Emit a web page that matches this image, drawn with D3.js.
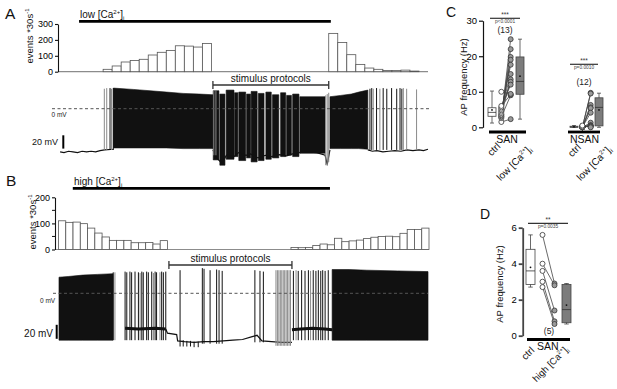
<!DOCTYPE html>
<html>
<head>
<meta charset="utf-8">
<script src="https://cdn.jsdelivr.net/npm/d3@7"></script>
<style>
body {margin: 0; background: #fff;}
svg {display: block; font-family: "Liberation Sans", Arial, sans-serif;}
</style>
</head>
<body>
<svg id="fig" width="617" height="389"></svg>
<script>
// ---- histograms: events per 30 s bin
var countsA = [0,0,0,0,0, 15,36,61,71,78,105,122,134,163,161,155,178,
	0,0,0,0,0,0,0,0,0,0,0,0,0, 241,184,107,46,23,15,8,8,10,4, 0];
var countsB = [110,104,105,99,82,63,48,35,35,35,26,26,27,21,34,
	0,0,0,0,0,0,0,0,0,0,0,0,0,0,0,0,0,
	8,7,8,15,21,18,43,30,33,36,42,47,50,51,49,62,77,77,82];
var ticksA = [0, 100, 200, 300];
var ticksB = [0, 100, 200];
var minorB = [50, 150];

// time windows (s)
var caBarA = [70, 907], stimA = [515, 900];
var caBarB = [59, 1121], stimB = [456, 964];

// ---- trace A (t in s, mV)
var denseA = [
	[[184,31,-59],[250,29,-59],[306,27,-59],[360,25,-59],[416,23,-60],[470,22,-60],[515,21,-60]],
	[[904,18,-60],[940,20,-60],[975,22,-60],[1000,25,-60],[1030,28,-61]]
];
var burstsA = [
	[516,535,27,-77],[538,555,22,-85],[559,585,28,-76],[587,598,24,-72],[601,624,25,-78],
	[627,640,22,-74],[642,662,26,-80],[666,685,23,-78],[691,709,25,-76],[713,734,21,-74],
	[740,757,24,-72],[760,776,20,-70],[780,801,22,-72],[804,888,18,-67]
];
var restA = [
	[[7,-65],[20,-66],[35,-64],[50,-65],[65,-66],[80,-64],[95,-65],[110,-64],[125,-65],[140,-63],[155,-62],[184,-61]],
	[[515,-62],[530,-75],[545,-82],[560,-70],[585,-72],[600,-66],[625,-70],[640,-68],[665,-74],[690,-70],
	 [710,-72],[735,-69],[760,-71],[780,-68],[800,-66],[830,-65],[860,-66],[888,-70],[895,-84],[904,-62]],
	[[1030,-62],[1045,-64],[1060,-63],[1080,-65],[1100,-64],[1120,-63],[1140,-64],[1160,-62],[1180,-63],[1200,-62],[1215,-63],[1230,-61]]
];
var spikesA = [
	[154,30,-62,1],[162,31,-62,1],[173,31,-62,0],[178,30,-62,1],[184,31,-62,0],
	[518,28,-70,1],[525,28,-70,1],[890,20,-85,1],[895,22,-86,1],[900,24,-80,1],
	[1037,30,-62,0],[1043,31,-62,0],[1048,30,-62,1],[1059,31,-62,0],[1070,30,-62,1],[1081,31,-62,0],
	[1093,30,-62,0],[1109,31,-62,0],[1126,30,-62,0],[1137,31,-62,0],[1143,30,-62,0],[1148,31,-62,1],
	[1159,30,-62,1],[1192,29,-62,1]
];

// ---- trace B
var denseB = [
	[[2,23,-67],[40,24,-67],[100,26,-67],[160,27,-67],[225,28,-67]],
	[[1130,34,-67],[1200,34,-67],[1273,33,-67],[1400,32,-67],[1526,31,-67]]
];
var plateauB = [
	[[275,-50],[330,-51],[400,-50],[443,-51]],
	[[964,-52],[1000,-51],[1050,-50],[1100,-51],[1130,-52]]
];
var restB = [
	[[443,-51],[450,-57],[488,-59],[492,-68],[520,-69],[560,-70],[600,-69],[640,-69],[680,-68],[720,-67],
	 [760,-66],[800,-62],[820,-60],[840,-68],[880,-69],[920,-70],[964,-70]]
];
var spikesB = [
	[226,30,-67,0],[233,30,-67,1],[275,31,-67,0],[282,30,-67,0],[295,31,-67,0],[302,30,-67,0],[316,31,-67,0],
	[330,30,-67,0],[337,29,-67,1],[344,31,-67,0],[350,30,-67,0],[364,31,-67,0],[371,30,-67,0],[385,31,-67,0],
	[392,29,-67,1],[399,31,-67,0],[405,30,-67,0],[419,30,-67,1],[426,31,-67,0],[433,30,-67,0],[443,31,-67,0],
	[515,-67,-76,0],[530,-68,-76,0],[545,-68,-76,0],[560,-69,-77,0],[577,-69,-77,0],
	[502,33,-76,0],[594,36,-72,0],[601,35,-72,0],[626,33,-72,0],[653,34,-72,0],[663,33,-72,0],[676,32,-72,0],
	[811,33,-70,0],[832,32,-70,0],[846,31,-70,0],
	[898,33,-75,1],[904,33,-75,1],[910,33,-75,1],[916,33,-75,1],[922,33,-75,1],[928,33,-75,1],
	[934,33,-75,1],[940,33,-75,1],[946,33,-75,1],[952,33,-75,1],[958,33,-75,1],
	[970,32,-67,0],[981,33,-67,1],[990,32,-67,0],[1004,33,-67,0],[1018,32,-67,0],[1032,33,-67,0],
	[1041,32,-67,1],[1052,33,-67,0],[1063,32,-67,0],[1073,33,-67,0],[1083,32,-67,0],[1091,33,-67,0],
	[1101,32,-67,0],[1114,33,-67,0]
];

// ---- panel C: AP frequency (Hz), paired cells
var sanCtrl = [1.5, 2.6, 2.9, 3.1, 3.4, 3.6, 4.0, 4.4, 4.8, 5.2, 5.6, 6.0, 10.0];
var sanLow  = [2.3, 24.8, 9.0, 22.0, 13.5, 19.8, 19.0, 17.6, 15.0, 12.8, 12.0, 9.2, 9.4];
var nsanCtrl = [0, 0, 0, 0, 0, 0, 0, 0, 0.3, 0.3, 0.2, 0.5];
var nsanLow  = [9.7, 9.5, 6.3, 5.6, 5.4, 4.1, 1.3, 0.6, 0.5, 0.3, 0.2, 0];
// [min, q1, median, q3, max, mean]
var boxSanCtrl = [1.2, 3.1, 4.2, 5.5, 10.2, 4.9];
var boxSanLow = [2.3, 9.3, 12.9, 19.8, 24.8, 14.4];
var boxNsanCtrl = [0, 0, 0.1, 0.3, 0.5, 0.15];
var boxNsanLow = [0, 0.4, 5.6, 8.3, 9.6, 4.9];
var ticksC = [0, 10, 20, 30];

// ---- panel D
var dCtrl = [5.6, 4.0, 3.6, 3.0, 2.7];
var dHigh = [2.9, 2.8, 1.4, 0.8, 0.65];
var boxDCtrl = [2.7, 2.85, 3.6, 4.8, 5.6, 3.8];
var boxDHigh = [0.65, 0.72, 1.45, 2.85, 2.9, 1.7];
var ticksD = [0, 2, 4, 6];

var slots = ['ctrlBox', 'ctrlPts', 'testPts', 'testBox'];
var FONT = '"Liberation Sans", Arial, sans-serif';
var svg = d3.select('#fig');

function caText(g, x, y, size, prefix, rotate, anchor) {
	var holder = g.append('g').attr('transform', 'translate(' + x + ',' + y + ')');
	if (rotate) holder = holder.append('g').attr('transform', 'rotate(' + rotate + ')');
	var t = holder.append('text')
		.attr('font-size', size).attr('text-anchor', anchor || 'start').attr('fill', '#111');
	t.append('tspan').text(prefix + '[Ca');
	t.append('tspan').attr('font-size', size * 0.6).attr('dy', -size * 0.4).text('2+');
	t.append('tspan').attr('dy', size * 0.4).text(']');
	t.append('tspan').attr('font-size', size * 0.6).attr('dy', size * 0.2).text('i');
	return t;
}

function eventsLabel(g, x, y) {
	var t = g.append('text').attr('transform', 'translate(' + x + ',' + y + ') rotate(-90)')
		.attr('text-anchor', 'middle').attr('font-size', 9.5).attr('fill', '#111');
	t.append('tspan').text('events *30s');
	t.append('tspan').attr('font-size', 6).attr('dy', -4).text('-1');
}

function drawHist(g, counts, xr, yr, max, ticks, minor, axisX) {
	var x = d3.scaleBand().domain(d3.range(counts.length)).range(xr);
	var y = d3.scaleLinear().domain([0, max]).range(yr);
	g.append('line')
		.attr('x1', axisX).attr('x2', xr[1]).attr('y1', y(0)).attr('y2', y(0))
		.attr('stroke', '#8c8c8c').attr('stroke-width', 1.2);
	var bars = counts.map(function(v, i) {return {i: i, v: v}}).filter(function(d) {return d.v > 0});
	g.selectAll('rect').data(bars).enter().append('rect')
		.attr('x', function(d) {return x(d.i)})
		.attr('width', x.bandwidth())
		.attr('y', function(d) {return y(d.v)})
		.attr('height', function(d) {return y(0) - y(d.v)})
		.attr('fill', '#fff').attr('stroke', '#555').attr('stroke-width', 0.8);
	var ax = g.append('g').attr('transform', 'translate(' + axisX + ',0)')
		.call(d3.axisLeft(y).tickValues(ticks).tickFormat(d3.format('d')).tickSize(3).tickSizeOuter(0).tickPadding(2));
	ax.attr('font-family', FONT).attr('font-size', 9);
	ax.selectAll('path, line').attr('stroke', '#111').attr('stroke-width', 1.1);
	g.selectAll('line.minor').data(minor).enter().append('line').attr('class', 'minor')
		.attr('x1', axisX - 3).attr('x2', axisX).attr('y1', y).attr('y2', y)
		.attr('stroke', '#111').attr('stroke-width', 1);
}

function drawTrace(g, x, y, dense, bursts, rest, spikes, plateau) {
	var area = d3.area()
		.x(function(d) {return x(d[0])})
		.y0(function(d) {return y(d[2])})
		.y1(function(d) {return y(d[1])});
	var line = d3.line()
		.x(function(d) {return x(d[0])})
		.y(function(d) {return y(d[1])});
	var segs = dense.concat(bursts.map(function(b) {return [[b[0], b[2], b[3]], [b[1], b[2], b[3]]]}));
	g.selectAll('path.dense').data(segs).enter().append('path').attr('class', 'dense')
		.attr('d', area).attr('fill', '#111').attr('stroke', '#111').attr('stroke-width', 0.6);
	g.selectAll('path.rest').data(rest).enter().append('path').attr('class', 'rest')
		.attr('d', line).attr('fill', 'none').attr('stroke', '#111').attr('stroke-width', 1.2);
	g.selectAll('line.spk').data(spikes).enter().append('line').attr('class', 'spk')
		.attr('x1', function(d) {return x(d[0])}).attr('x2', function(d) {return x(d[0])})
		.attr('y1', function(d) {return y(d[1])}).attr('y2', function(d) {return y(d[2])})
		.attr('stroke', function(d) {return d[3] ? '#8a8a8a' : '#111'}).attr('stroke-width', 1);
	g.selectAll('path.plat').data(plateau).enter().append('path').attr('class', 'plat')
		.attr('d', line).attr('fill', 'none').attr('stroke', '#111').attr('stroke-width', 3);
}

function bracket(g, x0, x1, y, label) {
	g.append('line').attr('x1', x0).attr('x2', x1).attr('y1', y).attr('y2', y)
		.attr('stroke', '#333').attr('stroke-width', 1.3);
	[x0, x1].forEach(function(xx) {
		g.append('line').attr('x1', xx).attr('x2', xx).attr('y1', y - 4).attr('y2', y + 4)
			.attr('stroke', '#333').attr('stroke-width', 1.3);
	});
	g.append('text').attr('x', (x0 + x1) / 2).attr('y', y - 3).attr('text-anchor', 'middle')
		.attr('font-size', 10).attr('fill', '#111').text(label);
}

function panelTrace(opt) {
	var g = svg.append('g');
	var xH = d3.scaleLinear().domain([0, opt.counts.length * 30]).range(opt.xr);
	drawHist(g.append('g'), opt.counts, opt.xr, opt.yr, opt.max, opt.ticks, opt.minor, opt.axisX);
	g.append('text').attr('x', opt.letter[0]).attr('y', opt.letter[1]).attr('font-size', 15.5)
		.attr('fill', '#111').text(opt.name);
	eventsLabel(g, opt.evLabel[0], opt.evLabel[1]);
	caText(g, opt.caText[0], opt.caText[1], 10, opt.prefix);
	g.append('line').attr('x1', xH(opt.caBar[0])).attr('x2', xH(opt.caBar[1]))
		.attr('y1', opt.caBarY).attr('y2', opt.caBarY).attr('stroke', '#000').attr('stroke-width', 2.8);
	bracket(g, xH(opt.stim[0]), xH(opt.stim[1]), opt.stimY, 'stimulus protocols');

	var yV = d3.scaleLinear().domain([0, 20]).range([opt.zeroY, opt.zeroY - 20 * opt.pxPerMv]);
	drawTrace(g.append('g'), xH, yV, opt.dense, opt.bursts, opt.rest, opt.spikes, opt.plateau);
	g.append('line').attr('x1', opt.dash[0]).attr('x2', opt.dash[1]).attr('y1', yV(0)).attr('y2', yV(0))
		.attr('stroke', '#555').attr('stroke-width', 1).attr('stroke-dasharray', '3,2.5');
	g.append('text').attr('x', opt.zeroText[0]).attr('y', opt.zeroText[1]).attr('font-size', 6.5)
		.attr('fill', '#222').text('0 mV');
	g.append('line').attr('x1', opt.scaleX).attr('x2', opt.scaleX)
		.attr('y1', yV(opt.scaleMv[0])).attr('y2', yV(opt.scaleMv[1]))
		.attr('stroke', '#000').attr('stroke-width', 2);
	g.append('text').attr('x', opt.scaleText[0]).attr('y', opt.scaleText[1]).attr('text-anchor', 'end')
		.attr('font-size', opt.scaleFont).attr('fill', '#111').text('20 mV');
}

panelTrace({
	name: 'A', letter: [5, 19], counts: countsA, xr: [58, 428], yr: [71.7, 24], max: 300,
	ticks: ticksA, minor: [], axisX: 58, evLabel: [33, 36],
	prefix: 'low ', caText: [80, 18], caBar: caBarA, caBarY: 21.3, stim: stimA, stimY: 85,
	zeroY: 108.7, pxPerMv: 0.665, dense: denseA, bursts: burstsA, rest: restA, spikes: spikesA, plateau: [],
	dash: [52, 430], zeroText: [51.5, 117], scaleX: 63.3, scaleMv: [-40, -60], scaleText: [58, 145], scaleFont: 9
});

panelTrace({
	name: 'B', letter: [6, 185.5], counts: countsB, xr: [58.5, 429], yr: [249.5, 197.3], max: 200,
	ticks: ticksB, minor: minorB, axisX: 55, evLabel: [36, 222],
	prefix: 'high ', caText: [74, 184.5], caBar: caBarB, caBarY: 188.3, stim: stimB, stimY: 265,
	zeroY: 293.3, pxPerMv: 0.7, dense: denseB, bursts: [], rest: restB, spikes: spikesB, plateau: plateauB,
	dash: [53, 428], zeroText: [40, 303], scaleX: 56.7, scaleMv: [-45, -65], scaleText: [53, 337], scaleFont: 10
});

// ---- box / paired plots
function drawBox(g, cx, w, s, y, fill) {
	g.append('line').attr('x1', cx).attr('x2', cx).attr('y1', y(s[0])).attr('y2', y(s[4]))
		.attr('stroke', '#444').attr('stroke-width', 0.8);
	[s[0], s[4]].forEach(function(v) {
		g.append('line').attr('x1', cx - w * 0.25).attr('x2', cx + w * 0.25).attr('y1', y(v)).attr('y2', y(v))
			.attr('stroke', '#444').attr('stroke-width', 0.8);
	});
	g.append('rect').attr('x', cx - w / 2).attr('width', w).attr('y', y(s[3]))
		.attr('height', Math.max(0.5, y(s[1]) - y(s[3])))
		.attr('fill', fill).attr('stroke', '#444').attr('stroke-width', 0.8);
	g.append('line').attr('x1', cx - w / 2).attr('x2', cx + w / 2).attr('y1', y(s[2])).attr('y2', y(s[2]))
		.attr('stroke', '#333').attr('stroke-width', 0.8);
	g.append('circle').attr('cx', cx).attr('cy', y(s[5])).attr('r', 0.9).attr('fill', '#111');
}

function drawPairs(g, x0, x1, a, b, y) {
	var pairs = a.map(function(v, i) {return [v, b[i]]});
	g.selectAll('line.pair').data(pairs).enter().append('line').attr('class', 'pair')
		.attr('x1', x0).attr('x2', x1)
		.attr('y1', function(d) {return y(d[0])}).attr('y2', function(d) {return y(d[1])})
		.attr('stroke', '#444').attr('stroke-width', 0.8);
	g.selectAll('circle.c0').data(a).enter().append('circle').attr('class', 'c0')
		.attr('cx', x0).attr('cy', y).attr('r', 2.5)
		.attr('fill', '#fff').attr('stroke', '#333').attr('stroke-width', 0.8);
	g.selectAll('circle.c1').data(b).enter().append('circle').attr('class', 'c1')
		.attr('cx', x1).attr('cy', y).attr('r', 2.5)
		.attr('fill', '#9a9a9a').attr('stroke', '#333').attr('stroke-width', 0.8);
}

function signif(g, x0, x1, y, stars, p, nY, n) {
	g.append('text').attr('x', (x0 + x1) / 2).attr('y', y + 0.5).attr('text-anchor', 'middle')
		.attr('font-size', 6.5).attr('fill', '#333').text(stars);
	g.append('line').attr('x1', x0).attr('x2', x1).attr('y1', y + 1.5).attr('y2', y + 1.5)
		.attr('stroke', '#333').attr('stroke-width', 1.2);
	g.append('text').attr('x', (x0 + x1) / 2).attr('y', y + 6.2).attr('text-anchor', 'middle')
		.attr('font-size', 4.8).attr('fill', '#444').text(p);
	if (n) {
		g.append('text').attr('x', (x0 + x1) / 2).attr('y', nY).attr('text-anchor', 'middle')
			.attr('font-size', 8.5).attr('fill', '#222').text(n);
	}
}

function groupBar(g, x0, x1, y) {
	g.append('line').attr('x1', x0).attr('x2', x1).attr('y1', y).attr('y2', y)
		.attr('stroke', '#000').attr('stroke-width', 2.8);
}

function rotLabel(g, x, y, text) {
	g.append('g').attr('transform', 'translate(' + x + ',' + y + ')')
		.append('text').attr('transform', 'rotate(-45)')
		.attr('text-anchor', 'end').attr('font-size', 10).attr('fill', '#111').text(text);
}

function yLabel(g, x, y) {
	g.append('text').attr('transform', 'translate(' + x + ',' + y + ') rotate(-90)')
		.attr('text-anchor', 'middle').attr('font-size', 9.5).attr('fill', '#111').text('AP frequency (Hz)');
}

// panel C
var gC = svg.append('g');
var yC = d3.scaleLinear().domain([0, 30]).range([127.3, 20.7]);
var axC = gC.append('g').attr('transform', 'translate(483,0)')
	.call(d3.axisLeft(yC).tickValues(ticksC).tickFormat(d3.format('d')).tickSize(4).tickSizeOuter(0).tickPadding(2));
axC.attr('font-family', FONT).attr('font-size', 9.5);
axC.selectAll('path, line').attr('stroke', '#111').attr('stroke-width', 1.2);
gC.append('text').attr('x', 446).attr('y', 17).attr('font-size', 14).attr('fill', '#111').text('C');
yLabel(gC, 466.5, 77);

var xSan = d3.scalePoint().domain(slots).range([492, 520]);
drawBox(gC, xSan('ctrlBox'), 8, boxSanCtrl, yC, '#fff');
drawBox(gC, xSan('testBox'), 8, boxSanLow, yC, '#7c7c7c');
drawPairs(gC.append('g'), xSan('ctrlPts'), xSan('testPts'), sanCtrl, sanLow, yC);
signif(gC, 490, 520, 16.8, '***', 'p<0.0001', 33, '(13)');
groupBar(gC, 489, 526, 132);
gC.append('text').attr('x', 507).attr('y', 142.5).attr('text-anchor', 'middle').attr('font-size', 10.5)
	.attr('fill', '#111').text('SAN');
rotLabel(gC, 501, 147, 'ctrl');
caText(gC, 532, 150, 10, 'low ', -45, 'end');

var xNsan = d3.scalePoint().domain(slots).range([574, 599]);
drawBox(gC, xNsan('ctrlBox'), 8, boxNsanCtrl, yC, '#fff');
drawBox(gC, xNsan('testBox'), 8, boxNsanLow, yC, '#7c7c7c');
drawPairs(gC.append('g'), xNsan('ctrlPts'), xNsan('testPts'), nsanCtrl, nsanLow, yC);
signif(gC, 570, 598, 62.8, '***', 'p=0.0010', 85, '(12)');
groupBar(gC, 568, 600, 132);
gC.append('text').attr('x', 584.5).attr('y', 142.5).attr('text-anchor', 'middle').attr('font-size', 10.5)
	.attr('fill', '#111').text('NSAN');
rotLabel(gC, 581.5, 148, 'ctrl');
caText(gC, 612, 150, 10, 'low ', -45, 'end');

// panel D
var gD = svg.append('g');
var yD = d3.scaleLinear().domain([0, 6]).range([335.7, 227.7]);
var axD = gD.append('g').attr('transform', 'translate(522.7,0)')
	.call(d3.axisLeft(yD).tickValues(ticksD).tickFormat(d3.format('d')).tickSize(4).tickSizeOuter(0).tickPadding(2));
axD.attr('font-family', FONT).attr('font-size', 9.5);
axD.selectAll('path, line').attr('stroke', '#444').attr('stroke-width', 1.8);
gD.append('text').attr('x', 480).attr('y', 218.5).attr('font-size', 14).attr('fill', '#111').text('D');
yLabel(gD, 503, 284);

var xD = d3.scalePoint().domain(slots).range([530.5, 566.5]);
drawBox(gD, xD('ctrlBox'), 9, boxDCtrl, yD, '#fff');
drawBox(gD, xD('testBox'), 9, boxDHigh, yD, '#7c7c7c');
drawPairs(gD.append('g'), xD('ctrlPts'), xD('testPts'), dCtrl, dHigh, yD);
signif(gD, 528, 568, 221.8, '**', 'p=0.0035', 0, null);
gD.append('text').attr('x', 549).attr('y', 334).attr('text-anchor', 'middle').attr('font-size', 8.5)
	.attr('fill', '#222').text('(5)');
groupBar(gD, 527, 570, 339.5);
gD.append('text').attr('x', 537).attr('y', 350).attr('font-size', 10.5).attr('fill', '#111').text('SAN');
rotLabel(gD, 535, 351, 'ctrl');
caText(gD, 569, 350, 9.5, 'high ', -45, 'end');
</script>
</body>
</html>
